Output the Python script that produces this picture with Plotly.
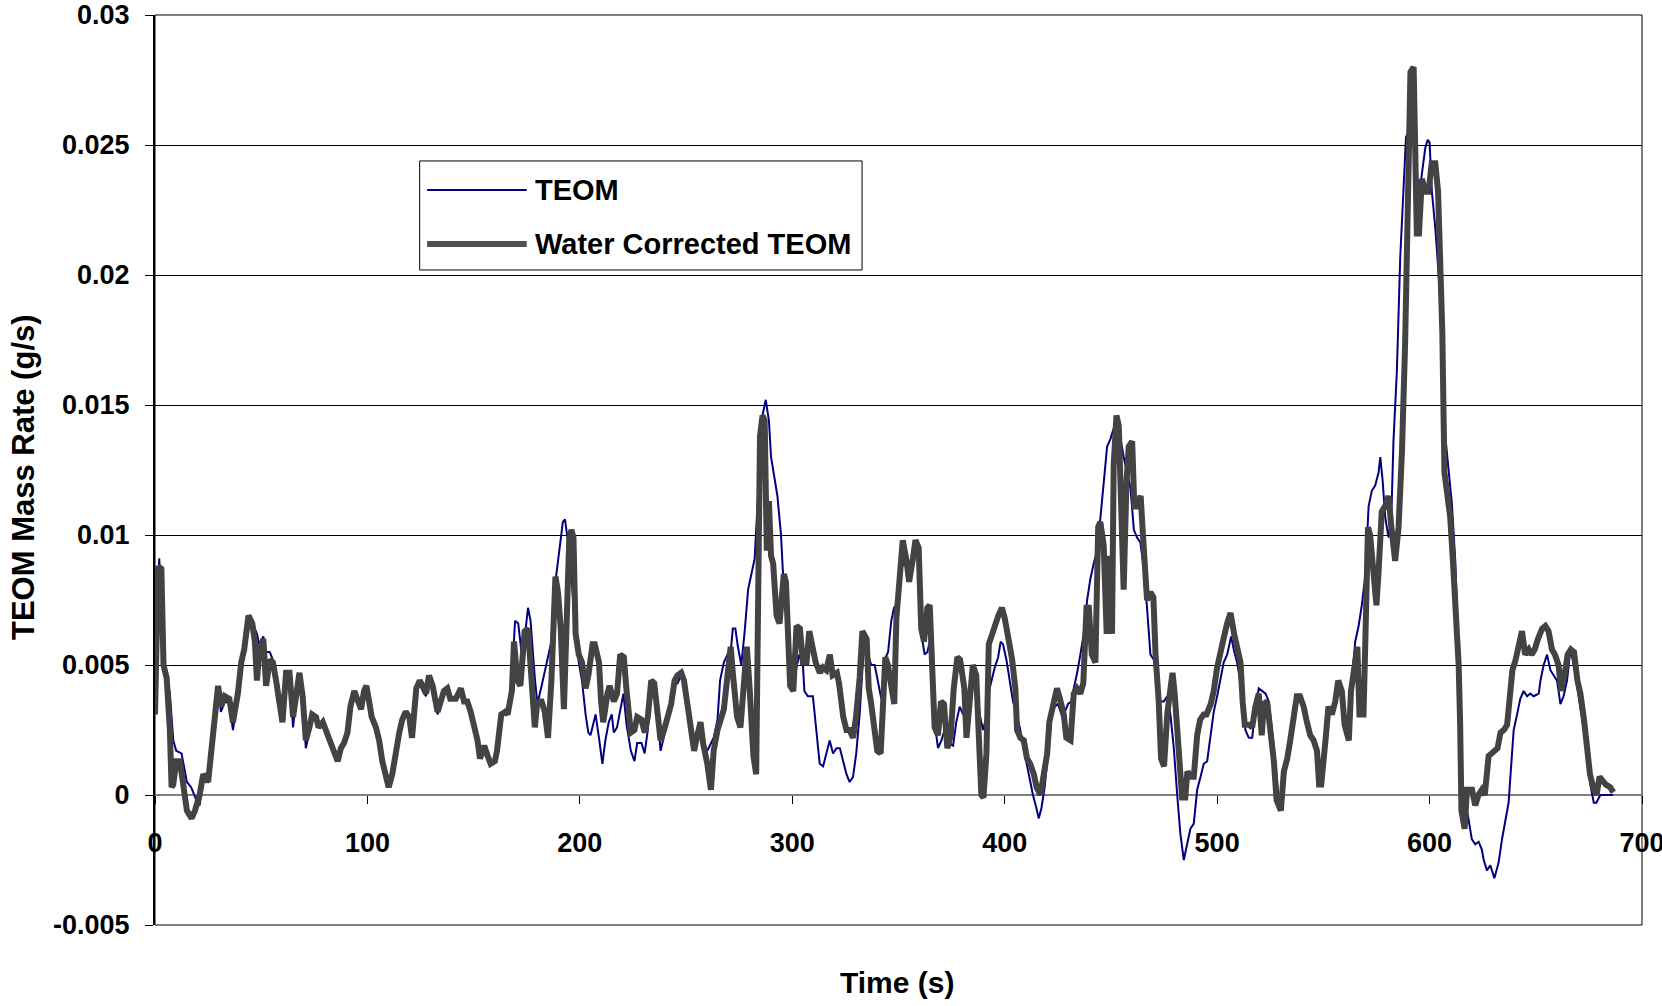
import plotly.graph_objects as go

# Time stamps (s) and mass rates (g/s) for the raw TEOM signal
teom_time = [
    0, 1, 2, 3, 4, 5.5, 7, 8.6, 10, 12.5, 15, 17, 19.5, 21, 22.7, 25, 26.6, 29, 30, 31,
    33, 35, 36.7, 39, 41, 43, 45, 47, 48, 49, 51, 52.3, 54, 55.5, 57, 58.6, 60, 61.7, 63.3, 65,
    66.4, 68, 69.5, 71, 72.7, 74, 75.8, 77, 79, 82, 84, 86, 87.5, 89, 90.6, 92, 93.8, 95.3, 97, 98.4,
    99.5, 101, 102, 104, 105.5, 107, 108.6, 110, 111.7, 113, 115, 116.4, 118, 119.7, 121, 123, 124.6, 126, 127.6, 129,
    130.7, 133, 134.5, 136, 137.6, 139, 141.6, 144, 145.5, 147, 148.6, 150, 151.8, 153, 155, 156.6, 158, 160, 161, 163,
    164.8, 166, 168, 169.5, 171, 172.5, 174.5, 175.6, 176.8, 178.8, 180, 182, 183.5, 185, 186.6, 188.5, 190, 191, 192, 193,
    194, 196, 198, 199.5, 201, 202.7, 204, 205, 207.4, 209, 210.6, 212, 213.6, 215, 216, 217.5, 219, 220.5, 222, 224,
    225.7, 227, 229, 230.5, 232, 233.6, 235, 236.8, 238, 240, 241, 243, 244.6, 246, 247.7, 249, 250.8, 252, 253.8, 255,
    256.8, 258, 260, 261.7, 263, 264.8, 266, 267.8, 269.5, 271, 272, 273.2, 274.4, 276, 277.6, 279.2, 280.7, 282.3, 283, 284.6,
    286, 287.5, 289, 290, 291.6, 293, 294.7, 295.5, 297, 298.6, 300.2, 301.7, 303.3, 305, 305.7, 307.3, 309.7, 311.3, 312.9, 314.5,
    316, 317.6, 319.2, 320.8, 322.4, 324, 325.5, 327, 328.6, 330.1, 331.7, 333.3, 334.4, 335.6, 337.2, 338.8, 340.3, 341.9, 343.5, 345.1,
    346.6, 347.9, 349, 350.6, 352.9, 355.3, 356.8, 358.4, 359.5, 360.8, 362.3, 363.6, 364.7, 367, 368.6, 370.2, 371.7, 373.3, 375.7, 377.2,
    378.8, 380.4, 382, 383.5, 385.1, 386.7, 388.2, 389.8, 391.4, 392.9, 395.3, 396.9, 398.1, 399.2, 400.8, 402.4, 403.9, 405.5, 407.1, 408.6,
    410.2, 411.8, 413.3, 414.9, 416, 417.3, 418.8, 420.4, 422, 423.5, 425.1, 426.7, 428.3, 429.8, 431.4, 432.5, 434.1, 435.6, 437.2, 438.8,
    440.3, 441.9, 443.5, 445.1, 446.6, 448.2, 449.8, 451.3, 452.9, 454.5, 456, 457.6, 459.2, 460.8, 462.3, 463.9, 465.5, 467, 467.8, 468.6,
    470.2, 471.7, 473.3, 474.9, 476.5, 478, 479.6, 481.2, 482.7, 484.3, 485.9, 487.4, 489, 490.6, 492.2, 493.7, 495.3, 496.9, 498.4, 500,
    501.6, 503.1, 504.7, 506.6, 507.8, 509.4, 511, 512.2, 513.3, 514.9, 516.5, 518.1, 519.6, 521.2, 522.8, 524.3, 525.9, 527.5, 529, 530.6,
    532.2, 533.8, 536, 537.5, 539, 540.7, 542, 543.8, 545.4, 547, 548, 549, 551, 552.4, 554, 555.6, 557, 558.7, 560, 562,
    563, 565, 566.6, 568.1, 569.7, 571.3, 572.8, 574.4, 576, 576.8, 577.9, 579.1, 580.7, 582, 583, 584.6, 586.2, 587.8, 588.9, 590.1,
    591.7, 592.9, 594.8, 596.4, 598, 599.1, 600, 601.1, 602.7, 604.2, 605.8, 607.4, 608.9, 610.5, 612.1, 613.7, 615.2, 616.8, 618.4, 619.9,
    621.5, 623.1, 624.6, 625.5, 627, 628.6, 630.5, 632.5, 634.1, 635.7, 637.2, 638.3, 639.6, 641.2, 642.7, 644.3, 645.9, 647.4, 649, 651.4,
    652.2, 653.7, 655.3, 656.9, 658.4, 660, 661.6, 663.1, 664.7, 666.3, 667.9, 669.4, 671, 672.6, 674.1, 675.7, 677.3, 678.5, 680.4, 683.5,
    686.4,
]
teom_rate = [
    0.0045, 0.0070, 0.0091, 0.0070, 0.0048, 0.0046, 0.0039, 0.0021, 0.0017, 0.0016, 0.0005, 0.0003, -0.0002, -0.0004, 0.0006, 0.0005, 0.0017, 0.0035, 0.0040, 0.0032,
    0.0036, 0.0035, 0.0025, 0.0038, 0.0050, 0.0060, 0.0068, 0.0064, 0.0062, 0.0058, 0.0061, 0.0055, 0.0055, 0.0052, 0.0046, 0.0038, 0.0033, 0.0045, 0.0046, 0.0026,
    0.0038, 0.0046, 0.0037, 0.0018, 0.0025, 0.0030, 0.0029, 0.0026, 0.0027, 0.0021, 0.0017, 0.0013, 0.0018, 0.0020, 0.0024, 0.0033, 0.0039, 0.0037, 0.0033, 0.0040,
    0.0042, 0.0035, 0.0030, 0.0026, 0.0021, 0.0013, 0.0007, 0.0003, 0.0008, 0.0016, 0.0024, 0.0029, 0.0031, 0.0030, 0.0022, 0.0041, 0.0043, 0.0040, 0.0038, 0.0045,
    0.0042, 0.0031, 0.0035, 0.0039, 0.0040, 0.0037, 0.0037, 0.0040, 0.0036, 0.0036, 0.0032, 0.0027, 0.0021, 0.0015, 0.0019, 0.0015, 0.0012, 0.0013, 0.0017, 0.0030,
    0.0032, 0.0031, 0.0045, 0.0067, 0.0066, 0.0055, 0.0064, 0.0072, 0.0067, 0.0045, 0.0035, 0.0042, 0.0048, 0.0054, 0.0059, 0.0082, 0.0092, 0.0098, 0.0105, 0.0106,
    0.0100, 0.0085, 0.0060, 0.0051, 0.0044, 0.0031, 0.0024, 0.0023, 0.0031, 0.0022, 0.0012, 0.0021, 0.0028, 0.0031, 0.0024, 0.0026, 0.0033, 0.0039, 0.0027, 0.0017,
    0.0013, 0.0020, 0.0020, 0.0016, 0.0025, 0.0042, 0.0042, 0.0029, 0.0017, 0.0024, 0.0028, 0.0034, 0.0042, 0.0043, 0.0046, 0.0043, 0.0033, 0.0025, 0.0020, 0.0021,
    0.0026, 0.0020, 0.0017, 0.0020, 0.0022, 0.0029, 0.0044, 0.0051, 0.0054, 0.0055, 0.0064, 0.0064, 0.0057, 0.0050, 0.0063, 0.0079, 0.0085, 0.0091, 0.0102, 0.0128,
    0.0146, 0.0152, 0.0144, 0.0130, 0.0122, 0.0115, 0.0100, 0.0087, 0.0069, 0.0044, 0.0044, 0.0048, 0.0054, 0.0050, 0.0040, 0.0038, 0.0038, 0.0026, 0.0012, 0.0011,
    0.0016, 0.0021, 0.0016, 0.0018, 0.0018, 0.0013, 0.0008, 0.0005, 0.0007, 0.0016, 0.0031, 0.0052, 0.0062, 0.0054, 0.0050, 0.0050, 0.0044, 0.0037, 0.0052, 0.0055,
    0.0067, 0.0072, 0.0073, 0.0087, 0.0089, 0.0084, 0.0090, 0.0096, 0.0094, 0.0062, 0.0054, 0.0055, 0.0059, 0.0028, 0.0018, 0.0021, 0.0025, 0.0020, 0.0019, 0.0028,
    0.0034, 0.0031, 0.0030, 0.0036, 0.0045, 0.0041, 0.0031, 0.0025, 0.0030, 0.0041, 0.0049, 0.0053, 0.0059, 0.0058, 0.0052, 0.0044, 0.0036, 0.0031, 0.0026, 0.0019,
    0.0012, 0.0005, 0.0000, -0.0005, -0.0009, -0.0005, 0.0003, 0.0016, 0.0030, 0.0034, 0.0035, 0.0031, 0.0032, 0.0035, 0.0036, 0.0041, 0.0047, 0.0054, 0.0062, 0.0075,
    0.0083, 0.0089, 0.0094, 0.0107, 0.0121, 0.0134, 0.0137, 0.0141, 0.0142, 0.0137, 0.0130, 0.0124, 0.0118, 0.0102, 0.0099, 0.0097, 0.0087, 0.0072, 0.0062, 0.0054,
    0.0052, 0.0045, 0.0036, 0.0036, 0.0038, 0.0031, 0.0018, 0.0000, -0.0015, -0.0025, -0.0019, -0.0013, -0.0011, 0.0002, 0.0007, 0.0012, 0.0013, 0.0023, 0.0032, 0.0038,
    0.0045, 0.0051, 0.0054, 0.0061, 0.0056, 0.0051, 0.0043, 0.0036, 0.0025, 0.0022, 0.0022, 0.0034, 0.0041, 0.0040, 0.0039, 0.0036, 0.0024, 0.0012, -0.0003, -0.0006,
    0.0010, 0.0016, 0.0031, 0.0038, 0.0038, 0.0034, 0.0029, 0.0023, 0.0021, 0.0017, 0.0004, 0.0004, 0.0021, 0.0034, 0.0031, 0.0036, 0.0044, 0.0040, 0.0027, 0.0021,
    0.0040, 0.0059, 0.0065, 0.0073, 0.0084, 0.0111, 0.0117, 0.0119, 0.0124, 0.0130, 0.0121, 0.0107, 0.0099, 0.0107, 0.0136, 0.0163, 0.0207, 0.0235, 0.0253, 0.0255,
    0.0260, 0.0255, 0.0228, 0.0239, 0.0249, 0.0252, 0.0251, 0.0232, 0.0218, 0.0201, 0.0178, 0.0138, 0.0124, 0.0112, 0.0090, 0.0054, 0.0006, -0.0002, -0.0010, -0.0017,
    -0.0019, -0.0018, -0.0021, -0.0025, -0.0029, -0.0027, -0.0032, -0.0026, -0.0017, -0.0010, -0.0003, 0.0010, 0.0025, 0.0031, 0.0037, 0.0040, 0.0038, 0.0039, 0.0038, 0.0039,
    0.0044, 0.0050, 0.0054, 0.0048, 0.0046, 0.0044, 0.0035, 0.0038, 0.0044, 0.0056, 0.0050, 0.0042, 0.0034, 0.0026, 0.0017, 0.0004, -0.0003, -0.0003, 0.0000, 0.0000,
    0.0000,
]

# Time stamps (s) and mass rates (g/s) after the water correction
water_time = [
    0, 1.5, 3, 4, 5.5, 7, 7.8, 8.6, 10, 11.7, 13.3, 15, 17.2, 18.8, 21, 22.7, 25, 26.6, 29, 29.7,
    31, 32.8, 35, 36.7, 39, 40.6, 42, 43, 44, 45.8, 47, 48, 49, 51, 52.3, 54, 55.5, 57, 58.6, 60,
    61.7, 63.3, 65, 66.4, 68, 69.5, 71, 72.7, 74, 75.8, 77, 79, 82, 84, 86, 87.5, 89, 90.6, 92, 93.8,
    95.3, 97, 98.4, 99.5, 101, 102, 104, 105.5, 107, 108.6, 110, 111.7, 113, 115, 116.4, 118, 119.7, 121, 123, 124.6,
    126, 127.6, 129, 130.7, 133, 134.5, 136, 137.6, 139, 141.6, 144, 145.5, 147, 148.6, 150, 151.8, 153, 155, 156.6, 158,
    160, 161, 163, 164.8, 166, 168, 169, 170.6, 172, 174, 175.6, 177, 178.8, 180, 182, 183.5, 185, 186.6, 188.5, 189.7,
    191, 192.5, 194, 195, 196, 197, 198, 199.5, 201, 202.7, 204, 206, 207, 209, 210, 211, 213, 214, 216, 217.5,
    219, 220.7, 222, 224, 225.7, 227, 229, 230.5, 232, 233.6, 235, 236.8, 238, 240, 241, 243, 244.6, 246, 247.7, 249,
    250.8, 252, 253.8, 255, 256.8, 258, 260, 261.7, 263, 264.8, 266, 267.8, 269.5, 271, 272, 274, 275.6, 277, 278.6, 280,
    281.7, 283, 284, 284.8, 286, 287, 288, 289, 290, 291, 292.6, 294, 296, 297, 299, 300.5, 302, 303.6, 305, 306.7,
    308, 310, 311, 313, 314.5, 316, 317.7, 319, 321, 322, 324, 325.5, 327, 328.6, 330, 331.7, 333, 335, 336, 337,
    338.8, 340, 341.6, 342.7, 343.8, 345, 346.6, 348, 349, 350.6, 352, 353.8, 355, 356.8, 358, 359.5, 360.7, 362, 363.6, 364.7,
    365.8, 367, 368.6, 370, 371.4, 373, 374.6, 376, 377.7, 379, 381, 382, 383.5, 385, 386.6, 387.7, 389, 390, 391.4, 392.5,
    394, 395.6, 397, 398.7, 400, 402, 403.5, 405, 405.8, 407.4, 409, 410.5, 412, 413.7, 415, 416.8, 418, 420, 421, 423,
    424.6, 426, 427.8, 429, 431, 432.5, 434, 435.6, 437, 438.5, 439.6, 441, 442.7, 444, 445, 446.6, 448, 449.5, 450.5, 451.3,
    452.6, 453.7, 454.8, 456, 457.3, 458.4, 460, 461, 462, 464, 465, 466, 467, 468.6, 470, 471, 472.5, 473.6, 475, 476.5,
    478, 479, 480, 482, 483.5, 485, 486, 487.4, 489, 490.6, 492, 493.7, 495, 497, 498.4, 500, 501.6, 503, 504.7, 506.3,
    508, 509.4, 511, 512, 513, 515, 516.5, 518, 519.6, 521, 522, 523.5, 525, 526.7, 528, 530, 531.4, 533, 534.4, 536,
    537.5, 539, 540.7, 542, 543.8, 545.4, 547, 548, 549, 551, 552.4, 554, 555.6, 557, 558.7, 560, 562, 563, 565, 566,
    567, 568.9, 569.7, 571, 572, 573.6, 575, 576, 577.5, 579, 580.7, 582, 583.8, 585.4, 587, 588.5, 590, 591, 592.5, 593,
    594, 595, 596.4, 598, 599.5, 601, 602.7, 604, 605, 606, 607, 608, 609.7, 611, 612.4, 613.7, 614.4, 615, 616.5, 617.6,
    618.7, 620, 621.5, 623, 624.6, 626, 627.8, 629, 630.5, 632, 633.4, 635, 636.5, 637.3, 639, 640.5, 642, 643.5, 645, 646.7,
    648, 649.5, 651, 653, 654.5, 656, 657.6, 659, 660.7, 662, 663.7, 665, 666.5, 668, 669.6, 671, 672.7, 674, 675.5, 677,
    678.6, 680, 681.7, 683, 685, 686.5,
]
water_rate = [
    0.0031, 0.0088, 0.0087, 0.0050, 0.0045, 0.0025, 0.0003, 0.0004, 0.0013, 0.0013, 0.0004, -0.0006, -0.0009, -0.0006, 0.0000, 0.0008, 0.0005, 0.0018, 0.0037, 0.0042,
    0.0034, 0.0038, 0.0037, 0.0028, 0.0039, 0.0051, 0.0056, 0.0063, 0.0069, 0.0066, 0.0059, 0.0044, 0.0055, 0.0060, 0.0042, 0.0052, 0.0051, 0.0044, 0.0037, 0.0028,
    0.0047, 0.0047, 0.0030, 0.0040, 0.0047, 0.0038, 0.0021, 0.0026, 0.0031, 0.0030, 0.0026, 0.0028, 0.0022, 0.0017, 0.0013, 0.0018, 0.0020, 0.0024, 0.0034, 0.0040,
    0.0037, 0.0033, 0.0040, 0.0042, 0.0035, 0.0030, 0.0026, 0.0021, 0.0013, 0.0007, 0.0003, 0.0008, 0.0016, 0.0024, 0.0029, 0.0032, 0.0030, 0.0022, 0.0041, 0.0044,
    0.0042, 0.0039, 0.0046, 0.0042, 0.0032, 0.0036, 0.0040, 0.0041, 0.0037, 0.0037, 0.0041, 0.0036, 0.0036, 0.0032, 0.0027, 0.0021, 0.0014, 0.0019, 0.0015, 0.0012,
    0.0013, 0.0017, 0.0031, 0.0032, 0.0031, 0.0040, 0.0059, 0.0044, 0.0042, 0.0063, 0.0064, 0.0049, 0.0026, 0.0036, 0.0036, 0.0032, 0.0022, 0.0044, 0.0084, 0.0078,
    0.0064, 0.0033, 0.0086, 0.0098, 0.0102, 0.0099, 0.0062, 0.0054, 0.0051, 0.0041, 0.0046, 0.0058, 0.0058, 0.0051, 0.0036, 0.0028, 0.0039, 0.0042, 0.0036, 0.0039,
    0.0054, 0.0053, 0.0040, 0.0024, 0.0025, 0.0030, 0.0029, 0.0024, 0.0030, 0.0044, 0.0043, 0.0030, 0.0021, 0.0026, 0.0029, 0.0035, 0.0044, 0.0046, 0.0047, 0.0044,
    0.0034, 0.0026, 0.0017, 0.0022, 0.0028, 0.0020, 0.0012, 0.0002, 0.0017, 0.0025, 0.0028, 0.0033, 0.0046, 0.0057, 0.0047, 0.0030, 0.0026, 0.0038, 0.0057, 0.0040,
    0.0015, 0.0008, 0.0079, 0.0138, 0.0146, 0.0144, 0.0094, 0.0113, 0.0092, 0.0089, 0.0069, 0.0066, 0.0085, 0.0082, 0.0042, 0.0040, 0.0065, 0.0064, 0.0051, 0.0051,
    0.0063, 0.0055, 0.0051, 0.0047, 0.0049, 0.0048, 0.0054, 0.0046, 0.0047, 0.0043, 0.0030, 0.0025, 0.0025, 0.0022, 0.0030, 0.0045, 0.0063, 0.0060, 0.0041, 0.0036,
    0.0026, 0.0017, 0.0016, 0.0041, 0.0053, 0.0050, 0.0041, 0.0035, 0.0068, 0.0087, 0.0098, 0.0090, 0.0082, 0.0091, 0.0098, 0.0095, 0.0064, 0.0059, 0.0072, 0.0073,
    0.0050, 0.0026, 0.0023, 0.0036, 0.0035, 0.0018, 0.0023, 0.0041, 0.0053, 0.0052, 0.0041, 0.0022, 0.0036, 0.0050, 0.0046, 0.0023, 0.0000, -0.0001, 0.0016, 0.0058,
    0.0062, 0.0067, 0.0069, 0.0072, 0.0068, 0.0059, 0.0052, 0.0041, 0.0025, 0.0022, 0.0021, 0.0014, 0.0012, 0.0008, 0.0003, 0.0000, 0.0007, 0.0016, 0.0028, 0.0037,
    0.0041, 0.0037, 0.0031, 0.0022, 0.0021, 0.0039, 0.0041, 0.0039, 0.0043, 0.0072, 0.0072, 0.0054, 0.0051, 0.0103, 0.0105, 0.0096, 0.0062, 0.0092, 0.0062, 0.0127,
    0.0146, 0.0142, 0.0106, 0.0079, 0.0120, 0.0134, 0.0136, 0.0111, 0.0111, 0.0115, 0.0101, 0.0090, 0.0075, 0.0078, 0.0076, 0.0054, 0.0036, 0.0014, 0.0011, 0.0031,
    0.0043, 0.0047, 0.0039, 0.0018, -0.0001, -0.0001, 0.0009, 0.0007, 0.0007, 0.0023, 0.0029, 0.0031, 0.0031, 0.0035, 0.0040, 0.0049, 0.0054, 0.0060, 0.0066, 0.0070,
    0.0062, 0.0057, 0.0051, 0.0036, 0.0027, 0.0027, 0.0026, 0.0034, 0.0039, 0.0023, 0.0035, 0.0036, 0.0025, 0.0013, -0.0002, -0.0006, 0.0009, 0.0014, 0.0021, 0.0031,
    0.0038, 0.0038, 0.0034, 0.0029, 0.0023, 0.0021, 0.0017, 0.0004, 0.0004, 0.0021, 0.0034, 0.0031, 0.0036, 0.0044, 0.0040, 0.0027, 0.0021, 0.0040, 0.0050, 0.0057,
    0.0031, 0.0031, 0.0057, 0.0103, 0.0100, 0.0086, 0.0073, 0.0086, 0.0109, 0.0111, 0.0115, 0.0103, 0.0090, 0.0103, 0.0132, 0.0174, 0.0249, 0.0278, 0.0280, 0.0251,
    0.0216, 0.0216, 0.0237, 0.0232, 0.0232, 0.0243, 0.0243, 0.0232, 0.0207, 0.0178, 0.0124, 0.0117, 0.0107, 0.0090, 0.0071, 0.0050, 0.0027, -0.0006, -0.0013, 0.0002,
    0.0002, 0.0002, -0.0004, 0.0000, 0.0002, 0.0000, 0.0015, 0.0016, 0.0017, 0.0018, 0.0024, 0.0025, 0.0027, 0.0034, 0.0048, 0.0052, 0.0057, 0.0063, 0.0054, 0.0056,
    0.0054, 0.0056, 0.0060, 0.0064, 0.0065, 0.0063, 0.0056, 0.0054, 0.0050, 0.0040, 0.0047, 0.0054, 0.0056, 0.0055, 0.0044, 0.0039, 0.0029, 0.0018, 0.0008, 0.0003,
    0.0000, 0.0007, 0.0005, 0.0004, 0.0003, 0.0001,
]

# Axis ticks
x_ticks = [0, 100, 200, 300, 400, 500, 600, 700]
y_ticks = [-0.005, 0, 0.005, 0.01, 0.015, 0.02, 0.025, 0.03]
y_tick_labels = ["-0.005", "0", "0.005", "0.01", "0.015", "0.02", "0.025", "0.03"]

series_names = ["TEOM", "Water Corrected TEOM"]
teom_color = "#000080"
water_color = "#434343"

FONT = "Liberation Sans, Arial, sans-serif"

fig = go.Figure()
fig.add_trace(go.Scatter(
    x=teom_time, y=teom_rate, mode="lines", name=series_names[0],
    line=dict(color=teom_color, width=2), showlegend=False,
))
fig.add_trace(go.Scatter(
    x=water_time, y=water_rate, mode="lines", name=series_names[1],
    line=dict(color=water_color, width=6), showlegend=False,
))

# Plot area frame
fig.add_shape(type="rect", xref="paper", yref="paper", x0=0, x1=1, y0=0, y1=1,
              line=dict(color="black", width=1), layer="below")

# Legend box drawn by hand so the line samples have the long Excel look
lx0, lx1, ly0, ly1 = 0.178, 0.4755, 0.7198, 0.8396
fig.add_shape(type="rect", xref="paper", yref="paper", x0=lx0, x1=lx1, y0=ly0, y1=ly1,
              line=dict(color="black", width=1), fillcolor="white", layer="above")
legend_rows = [0.8077, 0.7484]
legend_styles = [dict(color=teom_color, width=2), dict(color="#505050", width=6)]
for name, yy, style in zip(series_names, legend_rows, legend_styles):
    fig.add_shape(type="line", xref="paper", yref="paper", x0=0.183, x1=0.250,
                  y0=yy, y1=yy, line=style, layer="above")
    fig.add_annotation(x=0.2543, y=yy, xref="paper", yref="paper", text=name,
                       showarrow=False, xanchor="left", yanchor="middle",
                       font=dict(family=FONT, size=29, color="black", weight="bold"))

# Axis titles
fig.add_annotation(x=0, xref="paper", xshift=-132, y=0.4923, yref="paper",
                   text="TEOM Mass Rate (g/s)", textangle=-90, showarrow=False,
                   xanchor="center", yanchor="middle",
                   font=dict(family=FONT, size=31, color="black", weight="bold"))
fig.add_annotation(x=0.4993, xref="paper", y=-0.0637, yref="paper",
                   text="Time (s)", showarrow=False, xanchor="center", yanchor="middle",
                   font=dict(family=FONT, size=30, color="black", weight="bold"))

zero_pos = 0.005 / 0.035

fig.update_layout(
    width=1662, height=1006,
    margin=dict(l=155, r=20, t=15, b=81),
    paper_bgcolor="white", plot_bgcolor="white",
    font=dict(family=FONT, color="black"),
    xaxis=dict(
        range=[0, 700], tickvals=x_ticks, ticktext=[str(v) for v in x_ticks],
        anchor="free", position=zero_pos, automargin=False,
        showline=True, linecolor="#808080", linewidth=2, layer="below traces",
        ticks="outside", ticklen=8, tickwidth=1, tickcolor="black",
        ticklabelstandoff=16, ticklabeloverflow="allow",
        tickfont=dict(family=FONT, size=27, color="black", weight="bold"),
        showgrid=False, zeroline=False,
    ),
    yaxis=dict(
        range=[-0.005, 0.03], tickvals=y_ticks, ticktext=y_tick_labels,
        automargin=False,
        showline=True, linecolor="black", linewidth=2,
        ticks="outside", ticklen=8, tickwidth=1, tickcolor="black",
        ticklabelstandoff=10, ticklabeloverflow="allow",
        tickfont=dict(family=FONT, size=27, color="black", weight="bold"),
        showgrid=True, gridcolor="black", gridwidth=1, zeroline=False,
    ),
)

fig.write_html("out.html")
